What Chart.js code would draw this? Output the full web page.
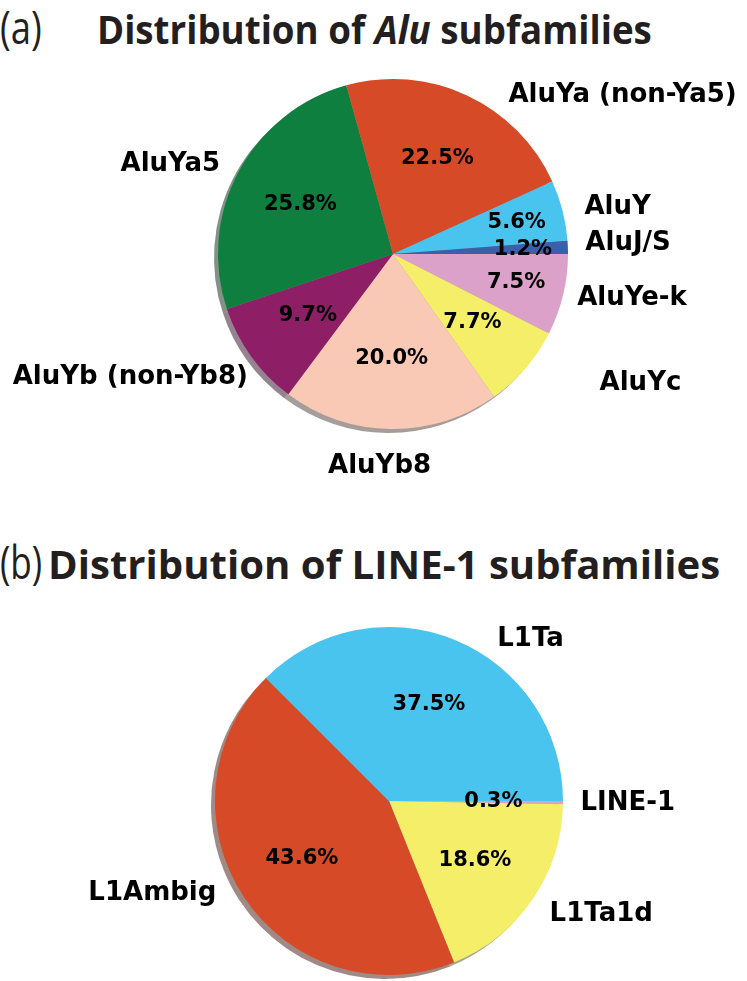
<!DOCTYPE html>
<html>
<head>
<meta charset="utf-8">
<script src="https://cdn.jsdelivr.net/npm/chart.js@4.4.1/dist/chart.umd.min.js"></script>
<style>
  html, body { margin: 0; padding: 0; background: #fff; }
  body { width: 747px; height: 981px; position: relative; overflow: hidden; }
  canvas { position: absolute; left: 0; }
  .txt { position: absolute; white-space: nowrap; line-height: 1; color: #231f20;
         font-family: "Open Sans", sans-serif; transform-origin: 0 0; }
  .tag { font-weight: 400; font-size: 46px; }
  .ttl { font-weight: 700; font-size: 40px; }
</style>
</head>
<body>
<div class="txt tag" id="tagA" style="left:0px; top:3px;" data-w="42">(a)</div>
<div class="txt ttl" id="ttlA" style="left:97px; top:9px;" data-w="555">Distribution of <i>Alu</i> subfamilies</div>
<canvas id="aluChart" width="747" height="500" style="top:0px"></canvas>

<div class="txt tag" id="tagB" style="left:0px; top:538px;" data-w="42">(b)</div>
<div class="txt ttl" id="ttlB" style="left:48px; top:544px;" data-w="672">Distribution of LINE-1 subfamilies</div>
<canvas id="l1Chart" width="747" height="481" style="top:500px"></canvas>

<script>
// slices listed in drawing order, clockwise from 3 o'clock
const aluLabels = ["AluYe-k", "AluYc", "AluYb8", "AluYb (non-Yb8)", "AluYa5", "AluYa (non-Ya5)", "AluY", "AluJ/S"];
const aluValues = [7.5, 7.7, 20.0, 9.7, 25.8, 22.5, 5.6, 1.2];
const aluColors = ["#dca1c9", "#f5ee68", "#f9c9b5", "#8e1f66", "#0f7f3f", "#d64a27", "#48c4ee", "#3a5fab"];

const l1Labels = ["LINE-1", "L1Ta1d", "L1Ambig", "L1Ta"];
const l1Values = [0.3, 18.6, 43.6, 37.5];
const l1Colors = ["#dca1c9", "#f5ee68", "#d64a27", "#48c4ee"];

// hand placement tweaks for the text (px), same order as the slices
const aluLabelNudge = [[-3, -1], [61, 3], [-11, 20], [11, 11], [-3, 1], [34, 16], [5, 1], [0, -3]];
const aluPctNudge = [[21, 4], [0, 0], [0, 0], [0, 0], [0, 0], [0, 0], [22, -5], [25, 0]];
const l1LabelNudge = [[0, 0], [3, 5], [-13, -13], [35, 15]];
const l1PctNudge = [[0, 0], [0, 0], [0, 0], [0, 0]];

// fit titles to the width they take in the figure
document.querySelectorAll(".txt").forEach(el => {
  const s = Number(el.dataset.w) / el.offsetWidth;
  el.style.transform = "scaleX(" + s + ")";
});

function shade(hex) {
  const n = parseInt(hex.slice(1), 16);
  const r = Math.round(((n >> 16) & 255) * 0.3);
  const g = Math.round(((n >> 8) & 255) * 0.3);
  const b = Math.round((n & 255) * 0.3);
  return "rgba(" + r + "," + g + "," + b + ",0.5)";
}

const pieShadow = {
  id: "pieShadow",
  beforeDatasetsDraw(chart) {
    const ctx = chart.ctx;
    const colors = chart.data.datasets[0].backgroundColor;
    chart.getDatasetMeta(0).data.forEach((arc, i) => {
      const p = arc.getProps(["x", "y", "startAngle", "endAngle", "outerRadius"], true);
      ctx.save();
      ctx.fillStyle = shade(colors[i]);
      ctx.beginPath();
      ctx.moveTo(p.x - 4, p.y + 4);
      ctx.arc(p.x - 4, p.y + 4, p.outerRadius, p.startAngle, p.endAngle);
      ctx.closePath();
      ctx.fill();
      ctx.restore();
    });
  }
};

const pieText = {
  id: "pieText",
  afterDatasetsDraw(chart, args, opts) {
    const ctx = chart.ctx;
    const vals = chart.data.datasets[0].data;
    const total = vals.reduce((a, b) => a + b, 0);
    chart.getDatasetMeta(0).data.forEach((arc, i) => {
      const p = arc.getProps(["x", "y", "startAngle", "endAngle", "outerRadius"], true);
      const mid = (p.startAngle + p.endAngle) / 2;
      const c = Math.cos(mid), s = Math.sin(mid);
      ctx.save();
      ctx.fillStyle = "#000";
      ctx.textBaseline = "middle";
      // category label outside
      ctx.font = "bold 26px 'DejaVu Sans'";
      ctx.textAlign = c > 0.15 ? "left" : (c < -0.15 ? "right" : "center");
      const ln = opts.labelNudge[i];
      ctx.fillText(chart.data.labels[i], p.x + 1.1 * p.outerRadius * c + ln[0], p.y + 1.1 * p.outerRadius * s + ln[1]);
      // percentage inside
      ctx.font = "bold 21px 'DejaVu Sans'";
      ctx.textAlign = "center";
      const pn = opts.pctNudge[i];
      ctx.fillText((vals[i] / total * 100).toFixed(1) + "%", p.x + 0.6 * p.outerRadius * c + pn[0], p.y + 0.6 * p.outerRadius * s + pn[1]);
      ctx.restore();
    });
  }
};

function makePie(id, labels, values, colors, pad, labelNudge, pctNudge) {
  return new Chart(document.getElementById(id), {
    type: "pie",
    data: {
      labels: labels,
      datasets: [{ data: values, backgroundColor: colors, borderWidth: 0 }]
    },
    options: {
      responsive: false,
      animation: false,
      rotation: 90,
      layout: { padding: pad },
      plugins: {
        legend: { display: false },
        tooltip: { enabled: false },
        pieText: { labelNudge: labelNudge, pctNudge: pctNudge }
      }
    },
    plugins: [pieShadow, pieText]
  });
}

makePie("aluChart", aluLabels, aluValues, aluColors,
  { left: 218, right: 179, top: 79, bottom: 71 }, aluLabelNudge, aluPctNudge);
makePie("l1Chart", l1Labels, l1Values, l1Colors,
  { left: 215, right: 184, top: 127, bottom: 6 }, l1LabelNudge, l1PctNudge);
</script>
</body>
</html>
